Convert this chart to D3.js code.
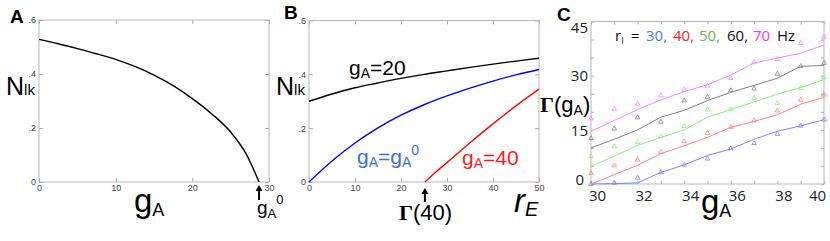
<!DOCTYPE html>
<html>
<head>
<meta charset="utf-8">
<script src="https://cdn.jsdelivr.net/npm/d3@7"></script>
<style>
  body { margin: 0; background: #fff; }
  svg { display: block; font-family: "Liberation Sans", Arial, sans-serif; }
</style>
</head>
<body>
<script>
// Panel A: N_lk against g_A
var gAValues = [0, 2.5, 5, 7.5, 10, 12.5, 15, 17.5, 20, 22.5, 25, 27, 28.7]
var nlkA = [0.528, 0.512, 0.494, 0.475, 0.454, 0.428, 0.396, 0.357, 0.309, 0.253, 0.185, 0.105, 0]
var gA0 = 28.7

// Panel B: N_lk against r_E for three g_A
var rE = [0, 5, 10, 15, 20, 25, 30, 35, 40, 45, 50]
var nlk20 = [0.300, 0.327, 0.350, 0.368, 0.385, 0.400, 0.413, 0.426, 0.438, 0.449, 0.460]
var nlkG0 = [0, 0.078, 0.145, 0.201, 0.248, 0.287, 0.320, 0.349, 0.375, 0.398, 0.418]
var rE40 = [25.2, 27.5, 30, 35, 40, 45, 50]
var nlk40 = [0, 0.036, 0.072, 0.146, 0.216, 0.283, 0.345]

// Panel C: Gamma(g_A) for r_I = 30..70 Hz
var gAC = [30, 31, 32, 33, 34, 35, 36, 37, 38, 39, 40]
var rI = [30, 40, 50, 60, 70]
var fitLines = [
  [0, 0.1, 0.3, 3.2, 5.3, 7.9, 9.7, 12.4, 14.6, 16.1, 17.8],
  [0, 2.6, 5.2, 8.4, 10.6, 12.9, 15.7, 17.3, 19.2, 22.1, 24.0],
  [4.9, 7.7, 10.7, 12.9, 15.0, 18.5, 20.6, 22.7, 24.9, 26.7, 28.9],
  [10.0, 12.4, 15.0, 18.5, 20.4, 23.1, 25.4, 27.3, 29.3, 32.6, 32.8],
  [14.6, 17.6, 20.6, 23.3, 25.6, 27.5, 30.2, 33.5, 34.9, 36.2, 38.5]
]
var simPoints = [
  [0, 0.3, 1.7, 3.2, 5.3, 7.0, 9.8, 11.3, 13.8, 16.1, 17.8],
  [3.0, 5.1, 6.7, 8.8, 11.8, 14.1, 15.7, 17.6, 20.3, 23.3, 24.7],
  [7.7, 10.4, 11.6, 13.2, 16.0, 20.6, 20.6, 23.8, 22.4, 26.6, 29.5],
  [12.7, 15.3, 18.4, 17.2, 23.1, 24.1, 25.9, 26.4, 30.5, 32.6, 33.5],
  [18.1, 20.8, 22.2, 24.5, 26.1, 27.2, 29.3, 33.7, 34.6, 39.0, 40.7]
]
var lineColors = ["#8080ff", "#ff8080", "#80f080", "#808080", "#ff80ff"]
var legendColors = ["#4a7bff", "#ff1a1a", "#70b050", "#111", "#ff33ff"]

var svg = d3.select("body").append("svg")
    .attr("width", 830)
    .attr("height", 241);

svg.append("rect").attr("width", 830).attr("height", 241).attr("fill", "#fff");

var nFmt = function(d) { return d === 0 ? "0" : d3.format(".1f")(d).replace(/^0/, ""); };

// small MATLAB style frame with inward ticks
function frame(g, x, y, xt, yt, xFmt, yFmt, fs, tlen) {
  var x0 = x.range()[0], x1 = x.range()[1], y0 = y.range()[0], y1 = y.range()[1];
  g.append("g").attr("transform", "translate(0," + y0 + ")")
    .call(d3.axisBottom(x).tickValues(xt).tickFormat(xFmt).tickSize(-tlen).tickSizeOuter(0).tickPadding(3))
    .attr("class", "xax");
  g.append("g").attr("transform", "translate(0," + y1 + ")")
    .call(d3.axisTop(x).tickValues(xt).tickFormat("").tickSize(-tlen).tickSizeOuter(0));
  g.append("g").attr("transform", "translate(" + x0 + ",0)")
    .call(d3.axisLeft(y).tickValues(yt).tickFormat(yFmt).tickSize(-tlen).tickSizeOuter(0).tickPadding(3))
    .attr("class", "yax");
  g.append("g").attr("transform", "translate(" + x1 + ",0)")
    .call(d3.axisRight(y).tickValues(yt).tickFormat("").tickSize(-tlen).tickSizeOuter(0));
  g.selectAll(".domain").remove();
  g.selectAll(".tick line").attr("stroke", "#aaa");
  g.selectAll(".tick text").attr("font-size", fs).attr("fill", "#444");
  g.append("rect").attr("x", x0).attr("y", y1).attr("width", x1 - x0).attr("height", y0 - y1)
    .attr("fill", "none").attr("stroke", "#b8b8b8");
}

function arrow(g, px, yTop, yBot) {
  g.append("line").attr("x1", px).attr("x2", px).attr("y1", yTop + 5).attr("y2", yBot)
    .attr("stroke", "#000").attr("stroke-width", 2);
  g.append("path").attr("d", "M" + (px - 3.5) + "," + (yTop + 6) + "L" + px + "," + yTop + "L" + (px + 3.5) + "," + (yTop + 6) + "Z")
    .attr("fill", "#000");
}

function subText(g, x, y, size, parts, color) {
  var t = g.append("text").attr("x", x).attr("y", y).attr("font-size", size).attr("fill", color || "#000");
  parts.forEach(function(p) {
    var s = t.append("tspan").text(p.t);
    if (p.s) s.attr("font-size", p.s);
    if (p.dy) s.attr("dy", p.dy);
    if (p.f) s.attr("font-family", p.f).attr("font-weight", "bold");
    if (p.i) s.attr("font-style", "italic");
  });
  return t;
}

// ---------- Panel A ----------
var xA = d3.scaleLinear().domain([0, 30]).range([39, 269]);
var yA = d3.scaleLinear().domain([0, 0.6]).range([182, 20]);
var gpA = svg.append("g");
frame(gpA, xA, yA, [0, 10, 20, 30], [0, 0.2, 0.4, 0.6], d3.format("d"), nFmt, 9, 4);

gpA.append("path")
  .datum(gAValues.map(function(d, i) { return [d, nlkA[i]]; }))
  .attr("fill", "none").attr("stroke", "#000").attr("stroke-width", 1.4)
  .attr("d", d3.line().x(function(d) { return xA(d[0]); }).y(function(d) { return yA(d[1]); }).curve(d3.curveMonotoneX));

arrow(gpA, xA(gA0), 185, 200);
subText(gpA, 10, 23, 19, [{t: "A"}]).attr("font-weight", "bold");
subText(gpA, 6, 95, 25, [{t: "N"}, {t: "lk", s: 15}]);
subText(gpA, 134, 212, 33, [{t: "g"}, {t: "A", s: 18, dy: 4}]);
subText(gpA, 257, 214, 19, [{t: "g"}, {t: "A", s: 13, dy: 4}, {t: "0", s: 13, dy: -14}]);

// ---------- Panel B ----------
var xB = d3.scaleLinear().domain([0, 50]).range([309, 539]);
var yB = d3.scaleLinear().domain([0, 0.6]).range([182, 20.5]);
var gpB = svg.append("g");
frame(gpB, xB, yB, [0, 10, 20, 30, 40, 50], [0, 0.2, 0.4, 0.6], d3.format("d"), nFmt, 9, 4);

var lineB = d3.line().x(function(d) { return xB(d[0]); }).y(function(d) { return yB(d[1]); }).curve(d3.curveMonotoneX);
[[rE, nlk20, "#000"], [rE, nlkG0, "#0000ff"], [rE40, nlk40, "#ff0000"]].forEach(function(s) {
  gpB.append("path")
    .datum(s[0].map(function(d, i) { return [d, s[1][i]]; }))
    .attr("fill", "none").attr("stroke", s[2]).attr("stroke-width", 1.4)
    .attr("d", lineB);
});

arrow(gpB, xB(rE40[0]), 188, 202);
subText(gpB, 284, 19, 19, [{t: "B"}]).attr("font-weight", "bold");
subText(gpB, 276, 95, 25, [{t: "N"}, {t: "lk", s: 15}]);
subText(gpB, 349, 75, 21, [{t: "g"}, {t: "A", s: 14, dy: 3}, {t: "=20", dy: -3}]);
subText(gpB, 357, 164, 21, [{t: "g"}, {t: "A", s: 14, dy: 3}, {t: "=g", dy: -3}, {t: "A", s: 14, dy: 3}, {t: "0", s: 14, dy: -12}], "#3a6fd8");
subText(gpB, 462, 165, 21, [{t: "g"}, {t: "A", s: 14, dy: 3}, {t: "=40", dy: -3}], "#ff1a1a");
subText(gpB, 399, 220, 22, [{t: "\u0393", f: "Liberation Serif"}, {t: "(40)"}]);
subText(gpB, 514, 212, 33, [{t: "r", i: true}, {t: "E", s: 20, dy: 4, i: true}]);

// ---------- Panel C ----------
var xC = d3.scaleLinear().domain([30, 40]).range([591, 824]);
var yC = d3.scaleLinear().domain([0, 45]).range([184, 21.5]);
var gpC = svg.append("g");
frame(gpC, xC, yC, d3.range(30, 41), d3.range(0, 46, 5),
  function(d) { return d % 2 === 0 ? d : ""; },
  function(d) { return d % 15 === 0 ? d : ""; }, 15, 3);
gpC.selectAll(".tick text").attr("font-family", "Open Sans, sans-serif").attr("fill", "#222");
gpC.select(".xax").selectAll(".tick text").attr("dx", function(d) { return d === 40 ? -7 : 6; }).attr("dy", "0.9em");
gpC.select(".yax").selectAll(".tick text").attr("dy", function(d) { return d === 45 ? "0.75em" : d === 0 ? "0" : "0.35em"; })
  .attr("dx", function(d) { return d === 0 ? -4 : 0; });

var lineC = d3.line().x(function(d, i) { return xC(gAC[i]); }).y(function(d) { return yC(d); });
var tri = d3.symbol().type(d3.symbolTriangle).size(9);

rI.forEach(function(r, k) {
  gpC.append("path").datum(fitLines[k])
    .attr("fill", "none").attr("stroke", lineColors[k]).attr("stroke-width", 1)
    .attr("d", lineC);
  gpC.selectAll(".pt" + k).data(simPoints[k]).enter().append("path")
    .attr("class", "pt" + k)
    .attr("transform", function(d, i) { return "translate(" + xC(gAC[i]) + "," + yC(d) + ")"; })
    .attr("d", tri)
    .attr("fill", "none").attr("stroke", lineColors[k]).attr("stroke-width", 0.8);
});

// legend, laid out word by word like the original
var legX = [646, 673, 699, 727, 753]
var leg = gpC.append("g").attr("font-size", 15).attr("font-family", "Open Sans, sans-serif");
var rl = leg.append("text").attr("x", 615).attr("y", 41).attr("fill", "#111");
rl.append("tspan").text("r");
rl.append("tspan").text("I").attr("font-size", 9).attr("dy", 3);
rl.append("tspan").text("=").attr("x", 631).attr("dy", -3);
leg.selectAll(".lg").data(rI).enter().append("text")
  .attr("class", "lg")
  .attr("x", function(d, i) { return legX[i]; })
  .attr("y", 41)
  .attr("fill", function(d, i) { return legendColors[i]; })
  .text(function(d, i) { return d + (i < rI.length - 1 ? "," : ""); });
leg.append("text").attr("x", 777).attr("y", 41).attr("fill", "#111").text("Hz");

subText(gpC, 557, 21, 19, [{t: "C"}]).attr("font-weight", "bold");
subText(gpC, 540, 112, 22, [{t: "\u0393", f: "Liberation Serif"}, {t: "(g"}, {t: "A", s: 14, dy: 3}, {t: ")", dy: -3}]);
subText(gpC, 701, 213, 33, [{t: "g"}, {t: "A", s: 18, dy: 4}]);
</script>
</body>
</html>
